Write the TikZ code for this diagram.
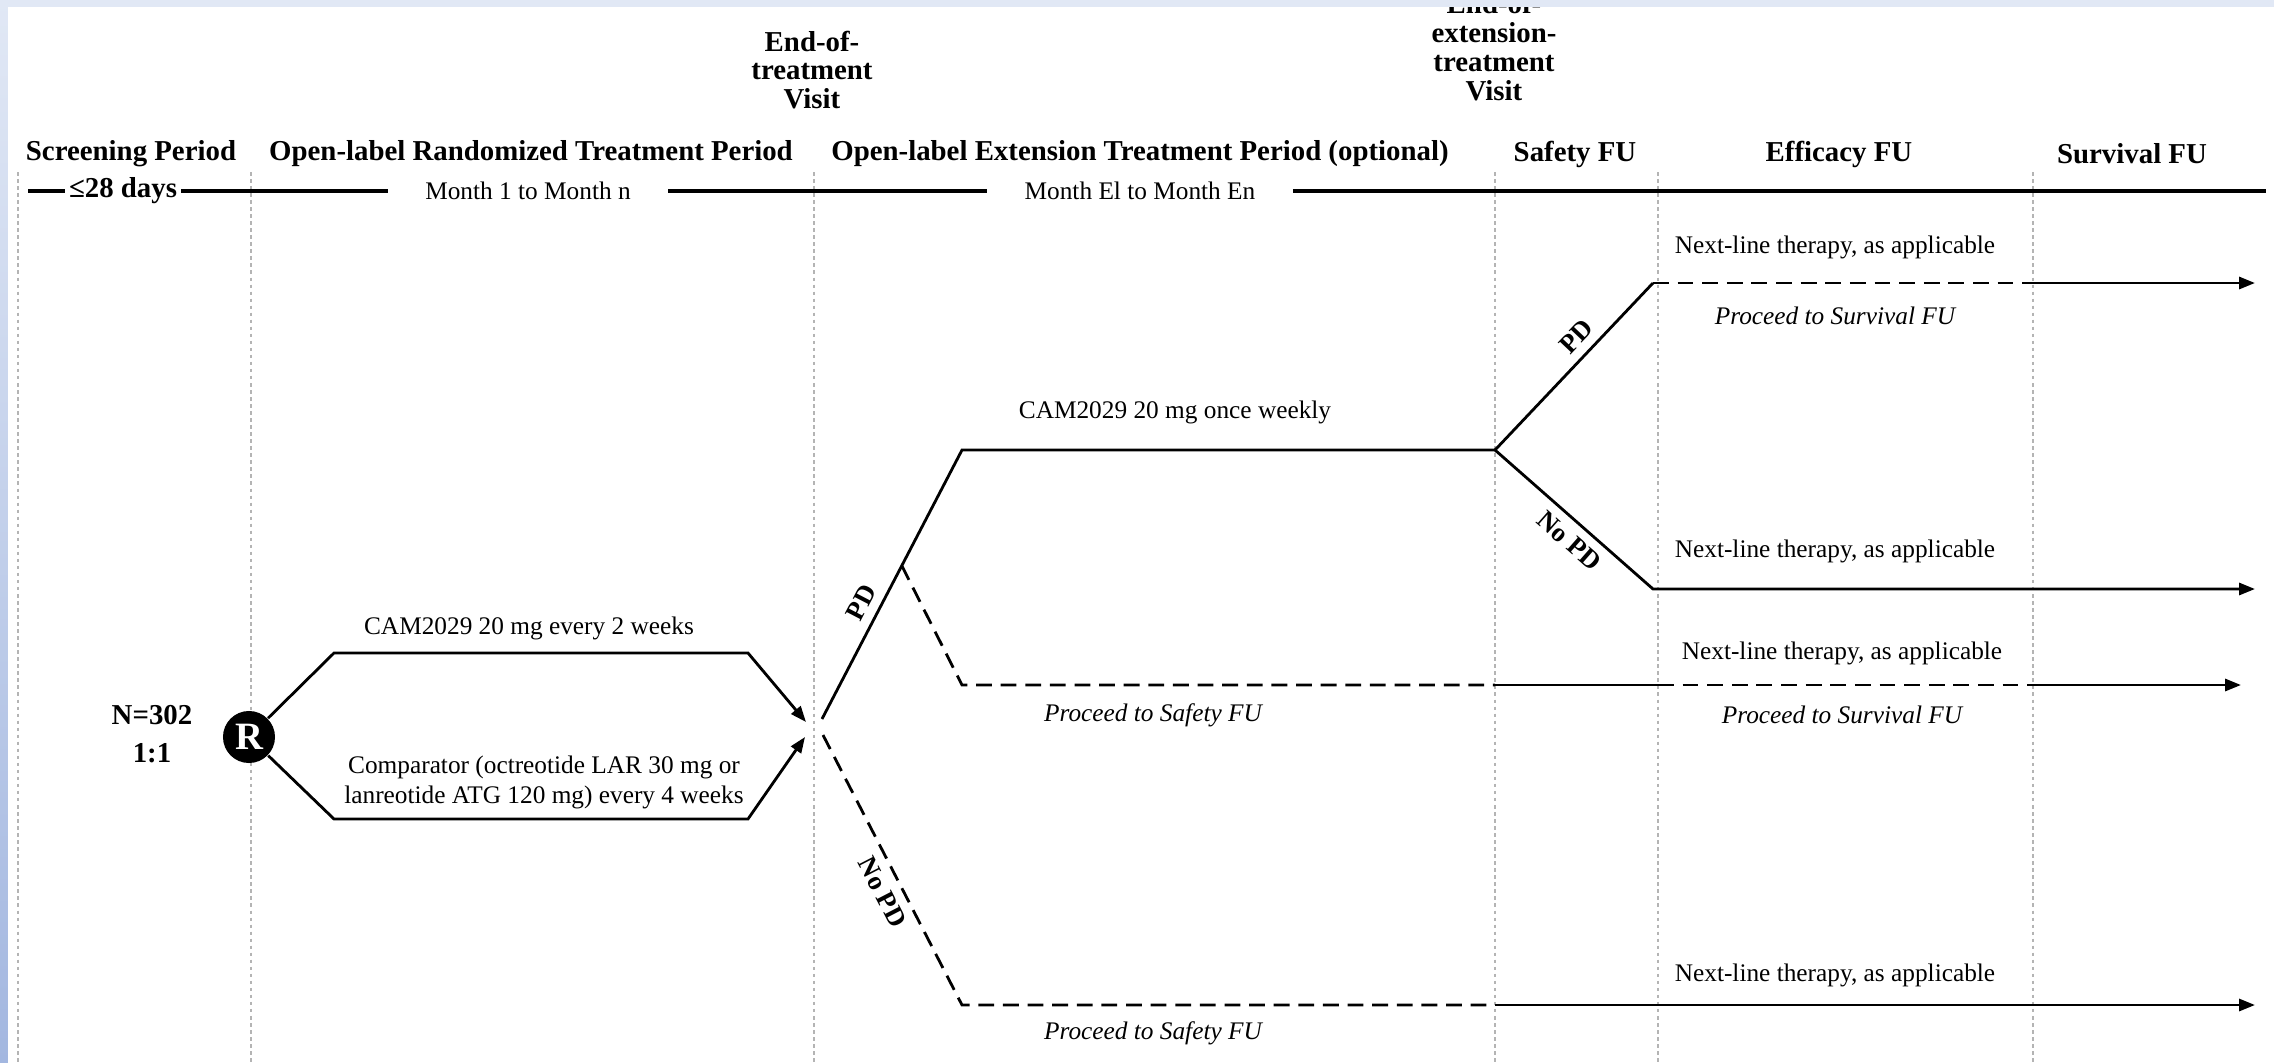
\documentclass[tikz,border=0pt]{standalone}
\usepackage{fontspec}
\setmainfont{Liberation Serif}
\usetikzlibrary{arrows.meta,calc}
\definecolor{framelt}{HTML}{E1E8F5}
\definecolor{framedk}{HTML}{A3B7E0}
\definecolor{sepgray}{HTML}{B4B4B4}

\begin{document}
\begin{tikzpicture}[x=0.01cm, y=-0.01cm]
  \tikzstyle{head}=[font=\fontsize{8.2}{8.2}\selectfont\bfseries, align=center, inner sep=1pt]
  \tikzstyle{txt}=[font=\fontsize{7.2}{8.5}\selectfont, align=center, inner sep=1pt]
  \tikzstyle{itxt}=[txt, font=\fontsize{7.2}{8.5}\selectfont\itshape]
  \tikzstyle{tag}=[font=\fontsize{7.6}{8}\selectfont\bfseries, sloped, inner sep=2.5pt]
  \tikzstyle{arm}=[line width=0.8pt]
  \tikzstyle{armd}=[arm, dash pattern=on 4.5pt off 2.5pt]
  \tikzstyle{arrow}=[arm, -{Triangle[length=4.5pt, width=3.4pt]}]
  \tikzstyle{tline}=[line width=1.1pt]
  \tikzstyle{vsep}=[sepgray, line width=0.4pt, dash pattern=on 1pt off 1pt]

  \useasboundingbox (0,0) rectangle (2274,1063);
  \fill[white] (0,0) rectangle (2274,1063);
  \foreach \x in {18,251,814,1495,1658,2033}
    \draw[vsep] (\x,172) -- (\x,1063);

  \node[head] (scr) at (131,154) {Screening Period};
  \node[head] (rnd) at (531,154) {Open-label Randomized Treatment Period};
  \node[head] (ext) at (1140,154) {Open-label Extension Treatment Period (optional)};
  \node[head] (saf) at (1575,154) {Safety FU};
  \node[head] (eff) at (1839,154) {Efficacy FU};
  \node[head] (srv) at (2132,154) {Survival FU};
  \node[head] (eotv) at (812,70) {End-of-\\treatment\\Visit};
  \node[head] (eoev) at (1494,47) {End-of-\\extension-\\treatment\\Visit};

  \coordinate (tl0) at (28,191);
  \coordinate (tlend) at (2266,191);
  \node[head, inner xsep=1pt] (d28) at (123,191) {≤28 days};
  \node[txt, inner xsep=10.5pt] (mon1) at (528,191) {Month 1 to Month n};
  \node[txt, inner xsep=10.5pt] (mone) at (1140,191) {Month El to Month En};
  \draw[tline] (tl0) -- (d28.west);
  \draw[tline] (d28.east) -- (mon1.west);
  \draw[tline] (mon1.east) -- (mone.west);
  \draw[tline] (mone.east) -- (tlend);

  \node[head, font=\fontsize{8.2}{10.8}\selectfont\bfseries] (npat) at (152,734) {N=302\\1:1};
  \node[circle, fill=black, text=white, minimum size=0.52cm, inner sep=0pt, font=\fontsize{11}{11}\selectfont\bfseries] (rz) at (249,737) {R};

  \coordinate (ua) at (334,653);
  \coordinate (ub) at (748,653);
  \coordinate (la) at (334,819);
  \coordinate (lb) at (748,819);
  \coordinate (eotu) at (806,722);
  \coordinate (eotl) at (805,737);
  \draw[arrow] (rz) -- (ua) -- (ub) -- (eotu);
  \draw[arrow] (rz) -- (la) -- (lb) -- (eotl);
  \node[txt] (armA) at (529,628) {CAM2029 20 mg every 2 weeks};
  \node[txt] (armB) at (544,782) {Comparator (octreotide LAR 30 mg or\\lanreotide ATG 120 mg) every 4 weeks};

  \coordinate (pdst) at (822,719);
  \coordinate (npst) at (823,735);
  \coordinate (pdtop) at (962,450);
  \coordinate (eoe) at (1495,450);
  \coordinate (sfork) at ($(pdst)!0.57!(pdtop)$);
  \coordinate (sfa) at (962,685);
  \coordinate (sfb) at (1495,685);
  \coordinate (sfc) at (1658,685);
  \coordinate (sfd) at (2033,685);
  \coordinate (sfe) at (2241,685);
  \draw[arm] (pdst) -- node[tag, above, pos=0.4] (pdA) {PD} (pdtop) -- (eoe);
  \draw[armd] (sfork) -- (sfa) -- (sfb);
  \draw[arm] (sfb) -- (sfc);
  \draw[armd] (sfc) -- (sfd);
  \draw[arrow] (sfd) -- (sfe);

  \coordinate (npa) at (962,1005);
  \coordinate (npb) at (1495,1005);
  \coordinate (npe) at (2255,1005);
  \draw[armd] (npst) -- node[tag, below, pos=0.55] (npdA) {No PD} (npa) -- (npb);
  \draw[arrow] (npb) -- (npe);

  \coordinate (pdhi) at (1653,283);
  \coordinate (nxa) at (2033,283);
  \coordinate (nxe) at (2255,283);
  \coordinate (nopd) at (1653,589);
  \coordinate (noe) at (2255,589);
  \draw[arm] (eoe) -- node[tag, above, pos=0.6] (pdB) {PD} (pdhi);
  \draw[armd] (pdhi) -- (nxa);
  \draw[arrow] (nxa) -- (nxe);
  \draw[arrow] (eoe) -- node[tag, below, pos=0.55] (npdB) {No PD} (nopd) -- (noe);

  \node[txt] (ext1) at (1175,412) {CAM2029 20 mg once weekly};
  \node[itxt] (saf1) at (1153,715) {Proceed to Safety FU};
  \node[itxt] (saf2) at (1153,1033) {Proceed to Safety FU};
  \node[txt] (nl1) at (1835,247) {Next-line therapy, as applicable};
  \node[itxt] (sv1) at (1835,316) {Proceed to Survival FU};
  \node[txt] (nl2) at (1835,551) {Next-line therapy, as applicable};
  \node[txt] (nl3) at (1842,653) {Next-line therapy, as applicable};
  \node[itxt] (sv2) at (1842,715) {Proceed to Survival FU};
  \node[txt] (nl4) at (1835,975) {Next-line therapy, as applicable};

  \fill[framelt] (0,0) rectangle (2274,7);
  \shade[top color=framelt, bottom color=framedk] (0,0) rectangle (8,1063);
\end{tikzpicture}
\end{document}
